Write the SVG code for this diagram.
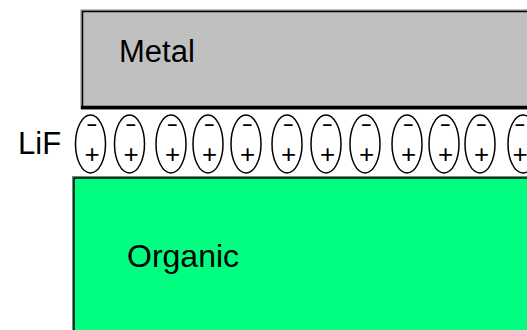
<svg xmlns="http://www.w3.org/2000/svg" width="527" height="330" viewBox="0 0 527 330">
<style>
.lbl{font-family:"Liberation Sans",Arial,sans-serif;fill:#000}
.dip ellipse{fill:#fff;stroke:#000;stroke-width:1.5}
.plus{font-family:"Liberation Sans",Arial,sans-serif;font-size:26px;text-anchor:middle;fill:#000}
.minus{font-family:"Liberation Sans",Arial,sans-serif;font-size:17px;font-weight:bold;text-anchor:middle;fill:#000}
</style>
<rect width="527" height="330" fill="#fff"/>
<g id="metal">
<rect x="81" y="10" width="460" height="99" fill="#c0c0c0" stroke="#808080" stroke-width="1"/>
<path d="M82.5 109 V11.5 H541" fill="none" stroke="#000" stroke-width="1.5"/>
<line x1="81" y1="107.5" x2="541" y2="107.5" stroke="#000" stroke-width="3.5"/>
<text class="lbl" x="119" y="62" font-size="31">Metal</text>
</g>
<g id="organic">
<rect x="72.5" y="176.5" width="470" height="170" fill="#00ff80" stroke="#808080" stroke-width="1"/>
<path d="M74 340 V178 H542" fill="none" stroke="#000" stroke-width="1.5"/>
<text class="lbl" x="127" y="267" font-size="32">Organic</text>
</g>
<g id="lif-label">
<text class="lbl" x="18" y="154" font-size="31">LiF</text>
</g>
<g id="lif-dipoles" class="dip">
<g id="d1"><ellipse cx="90.5" cy="144" rx="15" ry="29"/><text class="minus" x="92" y="131">−</text><text class="plus" x="92" y="163">+</text></g>
<g id="d2"><ellipse cx="129.5" cy="144" rx="15" ry="29"/><text class="minus" x="131" y="131">−</text><text class="plus" x="131" y="163">+</text></g>
<g id="d3"><ellipse cx="171" cy="144" rx="15" ry="29"/><text class="minus" x="172.5" y="131">−</text><text class="plus" x="172.5" y="163">+</text></g>
<g id="d4"><ellipse cx="208" cy="144" rx="15" ry="29"/><text class="minus" x="209.5" y="131">−</text><text class="plus" x="209.5" y="163">+</text></g>
<g id="d5"><ellipse cx="246" cy="144" rx="15" ry="29"/><text class="minus" x="247.5" y="131">−</text><text class="plus" x="247.5" y="163">+</text></g>
<g id="d6"><ellipse cx="287" cy="144" rx="15" ry="29"/><text class="minus" x="288.5" y="131">−</text><text class="plus" x="288.5" y="163">+</text></g>
<g id="d7"><ellipse cx="326" cy="144" rx="15" ry="29"/><text class="minus" x="327.5" y="131">−</text><text class="plus" x="327.5" y="163">+</text></g>
<g id="d8"><ellipse cx="365" cy="144" rx="15" ry="29"/><text class="minus" x="366.5" y="131">−</text><text class="plus" x="366.5" y="163">+</text></g>
<g id="d9"><ellipse cx="407" cy="144" rx="15" ry="29"/><text class="minus" x="408.5" y="131">−</text><text class="plus" x="408.5" y="163">+</text></g>
<g id="d10"><ellipse cx="444" cy="144" rx="15" ry="29"/><text class="minus" x="445.5" y="131">−</text><text class="plus" x="445.5" y="163">+</text></g>
<g id="d11"><ellipse cx="480" cy="144" rx="15" ry="29"/><text class="minus" x="481.5" y="131">−</text><text class="plus" x="481.5" y="163">+</text></g>
<g id="d12"><ellipse cx="523" cy="144" rx="15" ry="29"/><text class="minus" x="520" y="131">−</text><text class="plus" x="520" y="163">+</text></g>
</g>
<g id="connectors"></g>
</svg>
